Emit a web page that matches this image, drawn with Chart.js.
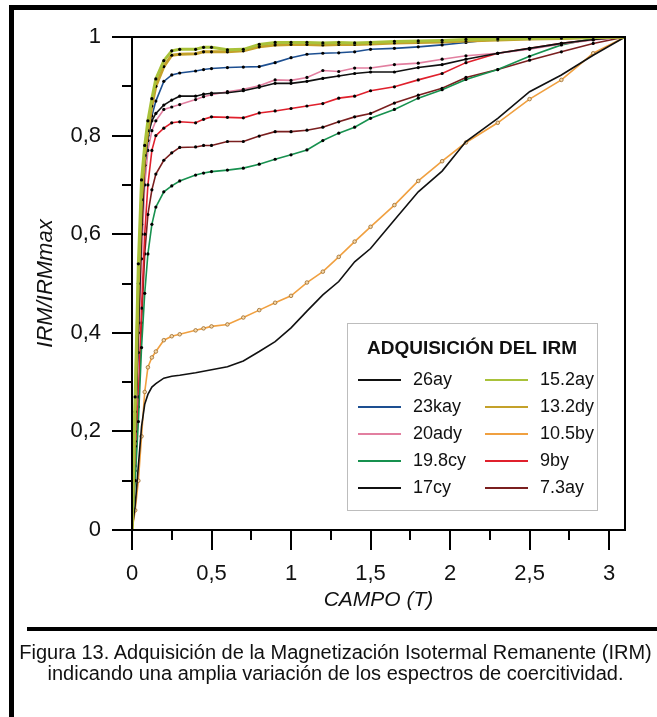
<!DOCTYPE html>
<html lang="es">
<head>
<meta charset="utf-8">
<title>Adquisición del IRM</title>
<script src="https://cdn.jsdelivr.net/npm/chart.js@4.4.1/dist/chart.umd.min.js"></script>
<style>
  html, body { margin: 0; padding: 0; background: #fff; }
  body { position: relative; width: 657px; height: 717px; overflow: hidden; font-family: "Liberation Sans", Arial, sans-serif; }
  #chart { position: absolute; left: 0; top: 0; }
  .frame { position: absolute; left: 9px; top: 5px; width: 700px; height: 800px; box-sizing: border-box;
           border-left: 5px solid #000; border-top: 5px solid #000; }
  .rule { position: absolute; left: 27px; top: 627px; width: 640px; height: 4px; background: #000; }
  .caption { position: absolute; left: 14px; top: 642px; width: 643px; text-align: center; white-space: nowrap;
             font-size: 20px; line-height: 21px; color: #111; }
</style>
</head>
<body>
<canvas id="chart" width="657" height="717"></canvas>
<div class="frame"></div>
<div class="rule"></div>
<div class="caption">Figura 13. Adquisición de la Magnetización Isotermal Remanente (IRM)<br>indicando una amplia variación de los espectros de coercitividad.</div>
<script>
// Applied field (T) at each acquisition step
const fieldT = [0, 0.02, 0.04, 0.06, 0.08, 0.1, 0.125, 0.15, 0.2, 0.25, 0.3, 0.4, 0.45, 0.5, 0.6, 0.7, 0.8,
                0.9, 1.0, 1.1, 1.2, 1.3, 1.4, 1.5, 1.65, 1.8, 1.95, 2.1, 2.3, 2.5, 2.7, 2.9, 3.1];

// Normalised IRM (IRM / IRMmax) per sample
const irm26ay  = [0, 0.18, 0.40, 0.60, 0.74, 0.80, 0.83, 0.845, 0.862, 0.872, 0.880, 0.880, 0.884, 0.886, 0.887, 0.891, 0.898,
                  0.906, 0.906, 0.910, 0.916, 0.921, 0.926, 0.929, 0.929, 0.938, 0.944, 0.955, 0.967, 0.977, 0.987, 0.995, 1];
const irm23kay = [0, 0.20, 0.42, 0.62, 0.74, 0.79, 0.84, 0.87, 0.91, 0.923, 0.927, 0.931, 0.934, 0.936, 0.938, 0.939, 0.940,
                  0.948, 0.958, 0.965, 0.967, 0.968, 0.970, 0.975, 0.977, 0.980, 0.984, 0.989, 0.996, 0.998, 0.999, 1, 1];
const irm20ady = [0, 0.17, 0.36, 0.55, 0.70, 0.77, 0.81, 0.83, 0.853, 0.858, 0.863, 0.873, 0.879, 0.883, 0.889, 0.894, 0.901,
                  0.913, 0.912, 0.918, 0.932, 0.930, 0.937, 0.937, 0.944, 0.947, 0.955, 0.962, 0.967, 0.975, 0.986, 0.994, 1];
const irm198cy = [0, 0.10, 0.22, 0.37, 0.48, 0.56, 0.62, 0.655, 0.686, 0.698, 0.708, 0.720, 0.724, 0.727, 0.730, 0.734, 0.742,
                  0.752, 0.761, 0.771, 0.790, 0.805, 0.817, 0.835, 0.853, 0.876, 0.893, 0.914, 0.934, 0.961, 0.984, 0.997, 1];
const irm17cy  = [0, 0.05, 0.13, 0.21, 0.255, 0.275, 0.290, 0.297, 0.308, 0.312, 0.314, 0.319, 0.322, 0.325, 0.331, 0.343, 0.362,
                  0.382, 0.410, 0.444, 0.477, 0.504, 0.544, 0.571, 0.629, 0.686, 0.728, 0.788, 0.835, 0.889, 0.923, 0.963, 1];
const irm152ay = [0, 0.27, 0.54, 0.71, 0.78, 0.83, 0.875, 0.915, 0.952, 0.972, 0.975, 0.975, 0.979, 0.979, 0.974, 0.975, 0.985,
                  0.989, 0.989, 0.989, 0.988, 0.989, 0.988, 0.989, 0.991, 0.992, 0.993, 0.995, 0.996, 0.997, 0.998, 0.999, 1];
const irm132dy = [0, 0.24, 0.50, 0.67, 0.76, 0.81, 0.86, 0.90, 0.94, 0.963, 0.965, 0.966, 0.970, 0.970, 0.970, 0.972, 0.980,
                  0.984, 0.985, 0.985, 0.984, 0.985, 0.985, 0.986, 0.988, 0.989, 0.990, 0.992, 0.994, 0.996, 0.997, 0.999, 1];
const irm105by = [0, 0.04, 0.10, 0.19, 0.28, 0.33, 0.35, 0.362, 0.385, 0.393, 0.397, 0.405, 0.409, 0.413, 0.417, 0.431, 0.446,
                  0.461, 0.475, 0.502, 0.524, 0.554, 0.585, 0.615, 0.659, 0.708, 0.748, 0.786, 0.826, 0.874, 0.913, 0.967, 1];
const irm9by   = [0, 0.13, 0.27, 0.45, 0.60, 0.70, 0.77, 0.80, 0.815, 0.826, 0.828, 0.826, 0.833, 0.838, 0.837, 0.836, 0.846,
                  0.850, 0.855, 0.860, 0.865, 0.876, 0.880, 0.891, 0.899, 0.913, 0.926, 0.948, 0.967, 0.977, 0.987, 0.995, 1];
const irm73ay  = [0, 0.12, 0.25, 0.42, 0.56, 0.64, 0.69, 0.722, 0.750, 0.765, 0.776, 0.777, 0.780, 0.780, 0.788, 0.788, 0.799,
                  0.808, 0.808, 0.811, 0.817, 0.828, 0.838, 0.845, 0.866, 0.882, 0.896, 0.918, 0.934, 0.953, 0.970, 0.987, 1];

const sampleNames = ['26ay', '23kay', '20ady', '19.8cy', '17cy', '15.2ay', '13.2dy', '10.5by', '9by', '7.3ay'];
const sampleValues = [irm26ay, irm23kay, irm20ady, irm198cy, irm17cy, irm152ay, irm132dy, irm105by, irm9by, irm73ay];

// Styling per sample (same order as the names)
const lineColors = ['#111111', '#1d4f91', '#e27fa0', '#17914f', '#111111',
                    '#a9c23a', '#c4a12a', '#f0a040', '#e0202c', '#7a1f1f'];
const FONT = '"Liberation Sans", Arial, sans-serif';

function fmtComma(v) {
  const r = Math.round(v * 10) / 10;
  return Number.isInteger(r) ? String(r) : r.toFixed(1).replace('.', ',');
}

const datasets = sampleNames.map((name, i) => {
  const isBand = name === '15.2ay' || name === '13.2dy';
  const ds = {
    label: name,
    data: fieldT.map((t, k) => ({ x: t, y: sampleValues[i][k] })),
    borderColor: lineColors[i],
    borderWidth: isBand ? 3 : 1.6,
    pointRadius: 1.6,
    pointBackgroundColor: '#000',
    pointBorderWidth: 0,
    tension: 0,
    order: isBand ? 0 : 1
  };
  if (name === '17cy') ds.pointRadius = 0;
  if (name === '10.5by') {
    ds.pointRadius = 1.8;
    ds.pointBackgroundColor = '#f6d7a8';
    ds.pointBorderColor = '#9a6a2a';
    ds.pointBorderWidth = 0.8;
  }
  return ds;
});

// Plot frame plus major/minor tick marks, placed through the scales
const frameTicks = {
  id: 'frameTicks',
  afterDatasetsDraw(chart) {
    const { ctx, chartArea: a, scales: { x, y } } = chart;
    ctx.save();
    ctx.strokeStyle = '#000';
    ctx.lineWidth = 2;
    ctx.strokeRect(a.left, a.top, a.right - a.left, a.bottom - a.top);
    ctx.beginPath();
    for (let i = 0; i <= 10; i++) {
      const py = Math.round(y.getPixelForValue(i / 10));
      const len = i % 2 === 0 ? 20 : 10;
      ctx.moveTo(a.left - len, py);
      ctx.lineTo(a.left, py);
    }
    for (let i = 0; i <= 12; i++) {
      const px = Math.round(x.getPixelForValue(i * 0.25));
      const len = i % 2 === 0 ? 20 : 10;
      ctx.moveTo(px, a.bottom);
      ctx.lineTo(px, a.bottom + len);
    }
    ctx.stroke();
    ctx.restore();
  }
};

// Boxed two-column legend in the lower right of the plot
const boxLegend = {
  id: 'boxLegend',
  afterDraw(chart) {
    const ctx = chart.ctx;
    const bx = 347, by = 323, bw = 250, bh = 187;
    ctx.save();
    ctx.fillStyle = '#fff';
    ctx.fillRect(bx, by, bw, bh);
    ctx.strokeStyle = '#bdbdbd';
    ctx.lineWidth = 1;
    ctx.strokeRect(bx + 0.5, by + 0.5, bw, bh);
    ctx.fillStyle = '#111';
    ctx.textAlign = 'center';
    ctx.textBaseline = 'middle';
    ctx.font = 'bold 19px ' + FONT;
    ctx.fillText('ADQUISICIÓN DEL IRM', bx + 125, by + 26);
    ctx.font = '18px ' + FONT;
    ctx.textAlign = 'left';
    sampleNames.forEach((name, i) => {
      const col = i < 5 ? 0 : 1;
      const row = i % 5;
      const ly = by + 57 + row * 27;
      const lx = col === 0 ? bx + 11 : bx + 138;
      ctx.strokeStyle = lineColors[i];
      ctx.lineWidth = 2;
      ctx.beginPath();
      ctx.moveTo(lx, ly);
      ctx.lineTo(lx + 43, ly);
      ctx.stroke();
      ctx.fillStyle = '#111';
      ctx.fillText(name, lx + 55, ly);
    });
    ctx.restore();
  }
};

new Chart(document.getElementById('chart'), {
  type: 'line',
  data: { datasets },
  plugins: [frameTicks, boxLegend],
  options: {
    responsive: false,
    animation: false,
    devicePixelRatio: 1,
    layout: { padding: { left: 0, top: 37, right: 32, bottom: 87 } },
    plugins: { legend: { display: false }, tooltip: { enabled: false } },
    scales: {
      x: {
        type: 'linear', min: 0, max: 3.1,
        afterFit(s) { s.height = 100; s.paddingLeft = 0; s.paddingRight = 0; },
        grid: { display: false, drawTicks: false },
        border: { display: false },
        ticks: {
          stepSize: 0.5, includeBounds: false, maxRotation: 0, autoSkip: false,
          padding: 31, color: '#111', font: { family: FONT, size: 22 },
          callback: v => (Math.abs(v * 2 - Math.round(v * 2)) < 1e-6 ? fmtComma(v) : '')
        },
        title: {
          display: true, text: 'CAMPO (T)', color: '#111',
          font: { family: FONT, size: 21, style: 'italic' },
          padding: { top: 0, bottom: 17 }
        }
      },
      y: {
        type: 'linear', min: 0, max: 1,
        afterFit(s) { s.width = 132; s.paddingTop = 0; s.paddingBottom = 0; },
        grid: { display: false, drawTicks: false },
        border: { display: false },
        ticks: {
          stepSize: 0.2, padding: 31, color: '#111',
          font: { family: FONT, size: 22 },
          callback: v => fmtComma(v)
        },
        title: {
          display: true, text: 'IRM/IRMmax', color: '#111',
          font: { family: FONT, size: 22, style: 'italic' },
          padding: { top: 33, bottom: 0 }
        }
      }
    }
  }
});
</script>
</body>
</html>
